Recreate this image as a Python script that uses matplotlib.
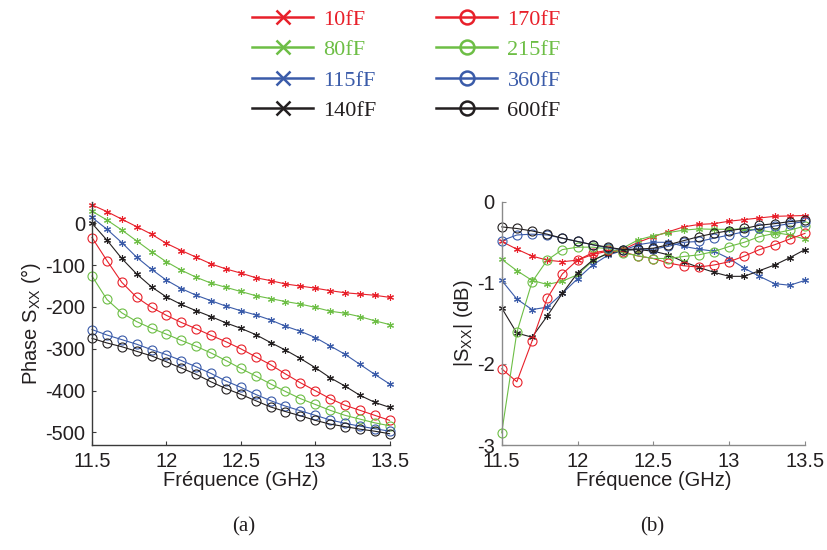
import numpy as np
import matplotlib
matplotlib.use("Agg")
from matplotlib import pyplot as plt
from matplotlib.lines import Line2D
from matplotlib.ticker import FormatStrFormatter

plt.rcParams['font.family'] = ['Liberation Sans', 'DejaVu Sans']
plt.rcParams['axes.unicode_minus'] = False

# Frequency points (GHz), 0.1 GHz step
freq = [11.5, 11.6, 11.7, 11.8, 11.9, 12.0, 12.1, 12.2, 12.3, 12.4, 12.5,
        12.6, 12.7, 12.8, 12.9, 13.0, 13.1, 13.2, 13.3, 13.4, 13.5]

labels = ['10fF', '80fF', '115fF', '140fF', '170fF', '215fF', '360fF', '600fF']

# (a) Phase S_XX in degrees
phase_10 = [44, 28, 10, -8, -26, -48, -65, -81, -97, -109, -119, -130, -137,
            -145, -150, -155, -161, -166, -169, -172, -177]
phase_80 = [29, 8, -16, -42, -68, -92, -112, -129, -143, -153, -163, -173,
            -180, -187, -193, -201, -210, -215, -223, -233, -242]
phase_115 = [14, -14, -46, -81, -110, -136, -156, -172, -185, -198, -209,
             -219, -231, -246, -258, -273, -293, -313, -337, -361, -384]
phase_140 = [0, -40, -84, -121, -152, -176, -194, -209, -223, -238, -251,
             -266, -285, -303, -323, -345, -369, -389, -411, -428, -440]
phase_170 = [-34, -89, -141, -177, -201, -220, -237, -252, -268, -283, -300,
             -319, -338, -360, -381, -400, -419, -435, -447, -459, -471]
phase_215 = [-126, -182, -214, -235, -251, -265, -280, -294, -310, -328, -347,
             -365, -384, -402, -419, -433, -447, -459, -468, -477, -484]
phase_360 = [-254, -267, -278, -289, -302, -314, -328, -343, -359, -377, -392,
             -409, -424, -437, -448, -459, -470, -478, -485, -491, -497]
phase_600 = [-275, -286, -295, -306, -317, -331, -346, -361, -379, -395, -409,
             -424, -439, -450, -460, -471, -480, -486, -492, -497, -503]

# (b) |S_XX| in dB
mag_10 = [-0.49, -0.585, -0.67, -0.72, -0.74, -0.72, -0.65, -0.61, -0.59, -0.50,
          -0.43, -0.37, -0.31, -0.28, -0.27, -0.24, -0.22, -0.20, -0.18, -0.175, -0.17]
mag_80 = [-0.71, -0.85, -0.97, -1.02, -0.98, -0.90, -0.73, -0.63, -0.57, -0.47,
          -0.42, -0.38, -0.35, -0.335, -0.34, -0.34, -0.335, -0.35, -0.38, -0.41, -0.46]
mag_115 = [-0.97, -1.20, -1.33, -1.30, -1.13, -0.95, -0.78, -0.66, -0.60, -0.53,
           -0.50, -0.50, -0.55, -0.585, -0.61, -0.70, -0.82, -0.92, -1.01, -1.03, -0.97]
mag_140 = [-1.31, -1.62, -1.67, -1.41, -1.13, -0.88, -0.72, -0.64, -0.60, -0.59,
           -0.61, -0.655, -0.74, -0.81, -0.87, -0.92, -0.92, -0.85, -0.78, -0.69, -0.59]
mag_170 = [-2.06, -2.22, -1.72, -1.19, -0.89, -0.72, -0.63, -0.60, -0.62, -0.67,
           -0.70, -0.757, -0.79, -0.806, -0.78, -0.74, -0.67, -0.59, -0.53, -0.46, -0.39]
mag_215 = [-2.85, -1.61, -0.99, -0.72, -0.59, -0.56, -0.56, -0.58, -0.63, -0.667,
           -0.70, -0.70, -0.675, -0.655, -0.614, -0.552, -0.50, -0.43, -0.39, -0.35, -0.30]
mag_360 = [-0.48, -0.41, -0.40, -0.41, -0.45, -0.49, -0.53, -0.57, -0.59, -0.585,
           -0.585, -0.55, -0.50, -0.49, -0.45, -0.41, -0.37, -0.33, -0.30, -0.27, -0.245]
mag_600 = [-0.31, -0.33, -0.36, -0.40, -0.45, -0.49, -0.53, -0.56, -0.59, -0.585,
           -0.573, -0.53, -0.48, -0.43, -0.39, -0.356, -0.33, -0.29, -0.27, -0.245, -0.23]

phases = [phase_10, phase_80, phase_115, phase_140,
          phase_170, phase_215, phase_360, phase_600]
mags = [mag_10, mag_80, mag_115, mag_140, mag_170, mag_215, mag_360, mag_600]

colors = ['#E8202A', '#6DBE45', '#3A5BA9', '#231F20'] * 2
plot_markers = [(6, 2, 0)] * 4 + ['o'] * 4
legend_markers = ['x'] * 4 + ['o'] * 4

fig = plt.figure(figsize=(8.28, 5.5), dpi=100)
ax1 = fig.add_axes([0.1111, 0.1909, 0.3594, 0.4411])
ax2 = fig.add_axes([0.6059, 0.1909, 0.3663, 0.4423])

for i in range(8):
    ms = 5 if i < 4 else 6.5
    ax1.plot(freq, phases[i], color=colors[i], marker=plot_markers[i], ms=ms,
             mfc='none', mew=0.8, lw=0.8, clip_on=False)
    ax2.plot(freq, mags[i], color=colors[i], marker=plot_markers[i], ms=ms,
             mfc='none', mew=0.8, lw=0.8, clip_on=False)

ax1.set_xlim(11.5, 13.5)
ax1.set_ylim(-530, 50)
ax1.set_yticks([-500, -400, -300, -200, -100, 0])
ax2.set_xlim(11.5, 13.5)
ax2.set_ylim(-3, 0)
ax2.set_yticks([-3, -2, -1, 0])

for ax, sc in [(ax1, '#3a3a3a'), (ax2, '#8a8a8a')]:
    ax.set_xticks([11.5, 12, 12.5, 13, 13.5])
    ax.xaxis.set_major_formatter(FormatStrFormatter('%g'))
    ax.yaxis.set_major_formatter(FormatStrFormatter('%g'))
    ax.spines['top'].set_visible(False)
    ax.spines['right'].set_visible(False)
    for s in ['left', 'bottom']:
        ax.spines[s].set_color(sc)
        ax.spines[s].set_linewidth(1.0)
    ax.tick_params(direction='in', length=3, width=0.8, color=sc,
                   labelsize=14.5, labelcolor='#231F20', pad=5)
    ax.set_xlabel('Fréquence (GHz)', fontsize=14.5, color='#231F20')
    ax.xaxis.set_label_coords(0.5, -0.108)

ax1.set_ylabel('Phase S$_\\mathregular{XX}$ (°)', fontsize=14.5, color='#231F20')
ax1.yaxis.set_label_coords(-0.165, 0.5)
ax2.set_ylabel('|S$_\\mathregular{XX}$| (dB)', fontsize=14.5, color='#231F20')
ax2.yaxis.set_label_coords(-0.088, 0.5)

fig.text(244 / 828, 1 - 527 / 550, '(a)', fontsize=15, family='Liberation Serif',
         ha='center', va='center', color='#231F20')
fig.text(652 / 828, 1 - 527 / 550, '(b)', fontsize=15, family='Liberation Serif',
         ha='center', va='center', color='#231F20')

handles = [Line2D([], [], color=colors[i], marker=legend_markers[i], ms=10,
                  mfc='none', mew=1.8, lw=1.8) for i in range(8)]
leg = fig.legend(handles, labels, ncol=2, loc='upper left',
                 bbox_to_anchor=(252 / 828, 1 - 9 / 550), frameon=False,
                 prop={'family': 'Liberation Serif', 'size': 16},
                 handlelength=2.75, handletextpad=0.45, columnspacing=2.7,
                 labelspacing=0.45, borderpad=0, borderaxespad=0)
for t, c in zip(leg.get_texts(), colors):
    t.set_color(c)

plt.savefig('out.png', dpi=100)
